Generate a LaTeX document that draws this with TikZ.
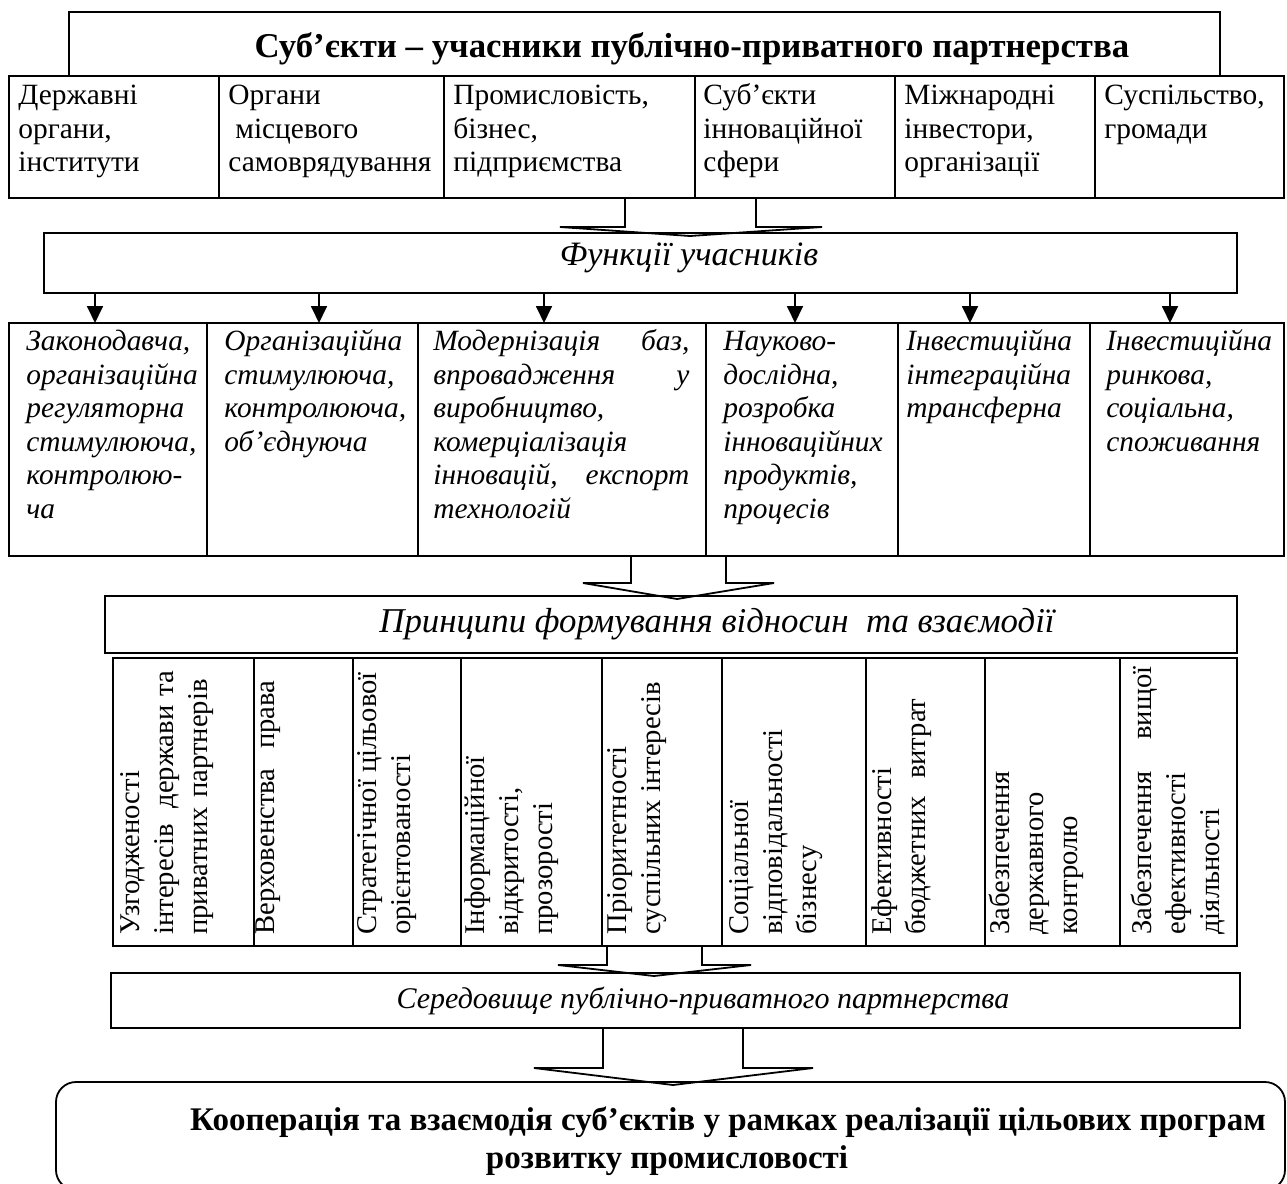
\documentclass[tikz,border=0pt]{standalone}
\usepackage{fontspec}
\setmainfont{Liberation Serif}
\usetikzlibrary{calc,arrows.meta}
\newcommand{\cellbox}[6][]{\node[box,#1,minimum width={(#5-#3)*0.5pt},minimum height={(#6-#4)*0.5pt}] (#2) at ({(#3+#5)/2},{(#4+#6)/2}) {};}
\newcommand{\blockarrow}[8]{\draw[barrow] (#3,0 |- #1.south) -- (#3,#8) -- (#5,#8) -- ($(#7,0 |- #2.north)+(0,3)$) -- (#6,#8) -- (#4,#8) -- (#4,0 |- #1.south);}
\tikzset{
  box/.style={draw,line width=0.9pt,inner sep=0pt,outer sep=0pt},
  reg/.style={font=\fontsize{14.7}{16.8}\selectfont,inner sep=0pt,align=left,anchor=north west},
  ital/.style={reg,font=\fontsize{14.7}{16.8}\selectfont\itshape},
  ptext/.style={reg,rotate=90,font=\fontsize{14.3}{16.8}\selectfont},
  barrow/.style={draw,line width=0.9pt,line join=miter},
  sarrow/.style={draw,line width=0.9pt,-{Triangle[width=8pt,length=8.5pt]}},
}
\begin{document}
\begin{tikzpicture}[x=0.5pt,y=-0.5pt]
\useasboundingbox (0,0) rectangle (1287,1184);
\fill[white] (0,0) rectangle (1287,1184);
\begin{scope}
\clip (0,0) rectangle (1287,1184);
% title
\cellbox{tbox}{69}{12}{1220}{76}
\node[font=\fontsize{17.4}{20}\selectfont\bfseries,inner sep=0pt,anchor=base] (title) at (692,57) {Суб’єкти – учасники публічно-приватного партнерства};
% subjects row
\cellbox{s1}{9}{76}{219}{198}
\cellbox{s2}{219}{76}{444}{198}
\cellbox{s3}{444}{76}{695}{198}
\cellbox{s4}{695}{76}{895}{198}
\cellbox{s5}{895}{76}{1095}{198}
\cellbox{s6}{1095}{76}{1284}{198}
\node[reg] (st1) at ($(s1.north west)+(9,4.5)$) {\strut Державні\\органи,\\інститути};
\node[reg] (st2) at ($(s2.north west)+(9,4.5)$) {\strut Органи\\\hspace*{3.5pt}місцевого\\самоврядування};
\node[reg] (st3) at ($(s3.north west)+(9,4.5)$) {\strut Промисловість,\\бізнес,\\підприємства};
\node[reg] (st4) at ($(s4.north west)+(8,4.5)$) {\strut Суб’єкти\\інноваційної\\сфери};
\node[reg] (st5) at ($(s5.north west)+(9,4.5)$) {\strut Міжнародні\\інвестори,\\організації};
\node[reg] (st6) at ($(s6.north west)+(9,4.5)$) {\strut Суспільство,\\громади};
% functions box
\cellbox{func}{44}{233}{1237}{293}
\node[font=\fontsize{17.1}{20}\selectfont\itshape,inner sep=0pt,anchor=base] (funct) at (689,265) {Функції учасників};
\blockarrow{s3}{func}{625}{756}{560}{822}{690}{227}
% functions row
\cellbox{f1}{9}{323}{207}{556}
\cellbox{f2}{207}{323}{418}{556}
\cellbox{f3}{418}{323}{706}{556}
\cellbox{f4}{706}{323}{898}{556}
\cellbox{f5}{898}{323}{1090}{556}
\cellbox{f6}{1090}{323}{1284}{556}
\foreach \xx/\cc in {95/f1,319/f2,544/f3,795/f4,970/f5,1170/f6}
  \draw[sarrow] (\xx,0 |- func.south) -- (\xx,0 |- \cc.north);
\node[ital] (ft1) at ($(f1.north west)+(17,3.5)$) {\strut Законодавча,\\організаційна\\регуляторна\\стимулююча,\\контролюю-\\ча};
\node[ital] (ft2) at ($(f2.north west)+(17,3.5)$) {\strut Організаційна\\стимулююча,\\контролююча,\\об’єднуюча};
\node[ital,text width=128pt] (ft3) at ($(f3.north west)+(15,3.5)$) {\strut Модернізація\hfill баз,\\впровадження\hfill у\\виробництво,\\комерціалізація\\інновацій,\hfill експорт\\технологій};
\node[ital] (ft4) at ($(f4.north west)+(17,3.5)$) {\strut Науково-\\дослідна,\\розробка\\інноваційних\\продуктів,\\процесів};
\node[ital] (ft5) at ($(f5.north west)+(8,3.5)$) {\strut Інвестиційна\\інтеграційна\\трансферна};
\node[ital] (ft6) at ($(f6.north west)+(16,3.5)$) {\strut Інвестиційна\\ринкова,\\соціальна,\\споживання};
% principles box
\cellbox{pbox}{105}{596}{1237}{653}
\node[font=\fontsize{17.4}{20}\selectfont\itshape,inner sep=0pt,anchor=base] (pboxt) at (717,632) {Принципи формування відносин\ \ та взаємодії};
\blockarrow{f3}{pbox}{631}{726}{583}{774}{677}{583}
% principles row
\cellbox{p1}{113}{658}{254}{946}
\cellbox{p2}{254}{658}{353}{946}
\cellbox{p3}{353}{658}{461}{946}
\cellbox{p4}{461}{658}{602}{946}
\cellbox{p5}{602}{658}{722}{946}
\cellbox{p6}{722}{658}{866}{946}
\cellbox{p7}{866}{658}{985}{946}
\cellbox{p8}{985}{658}{1120}{946}
\cellbox{p9}{1120}{658}{1237}{946}
\node[ptext,text width=132pt] (pt1) at ($(p1.south west)+(3,-11)$) {\strut Узгодженості\\інтересів\hfill держави та\\\mbox{приватних партнерів}};
\node[ptext,text width=127pt] (pt2) at ($(p2.south west)+(-3,-11)$) {\strut Верховенства\hfill права};
\node[ptext] (pt3) at ($(p3.south west)+(0,-11)$) {\strut Стратегічної цільової\\орієнтованості};
\node[ptext] (pt4) at ($(p4.south west)+(0,-11)$) {\strut Інформаційної\\відкритості,\\прозорості};
\node[ptext] (pt5) at ($(p5.south west)+(1,-11)$) {\strut Пріоритетності\\суспільних інтересів};
\node[ptext] (pt6) at ($(p6.south west)+(3,-11)$) {\strut Соціальної\\відповідальності\\бізнесу};
\node[ptext] (pt7) at ($(p7.south west)+(2,-11)$) {\strut Ефективності\\бюджетних\hspace{0.6em}витрат};
\node[ptext] (pt8) at ($(p8.south west)+(1,-11)$) {\strut Забезпечення\\державного\\контролю};
\node[ptext,text width=134pt] (pt9) at ($(p9.south west)+(8,-11)$) {\strut Забезпечення\hfill вищої\\ефективності\\діяльності};
% environment box
\cellbox{env}{111}{973}{1240}{1028}
\node[font=\fontsize{15}{18}\selectfont\itshape,inner sep=0pt,anchor=base] (envt) at (703,1008) {Середовище публічно-приватного партнерства};
\blockarrow{p5}{env}{607}{702}{558}{751}{654}{965}
% final box
\cellbox[rounded corners=10pt]{final}{56}{1082}{1285}{1190}
\blockarrow{env}{final}{603}{743}{534}{813}{673}{1068}
\node[font=\fontsize{16.5}{19}\selectfont\bfseries,inner sep=0pt,align=center,anchor=north] (finalt) at (667,1103) {\hspace*{61pt}\strut Кооперація та взаємодія суб’єктів у рамках реалізації цільових програм\\розвитку промисловості};
\end{scope}
\end{tikzpicture}
\end{document}
